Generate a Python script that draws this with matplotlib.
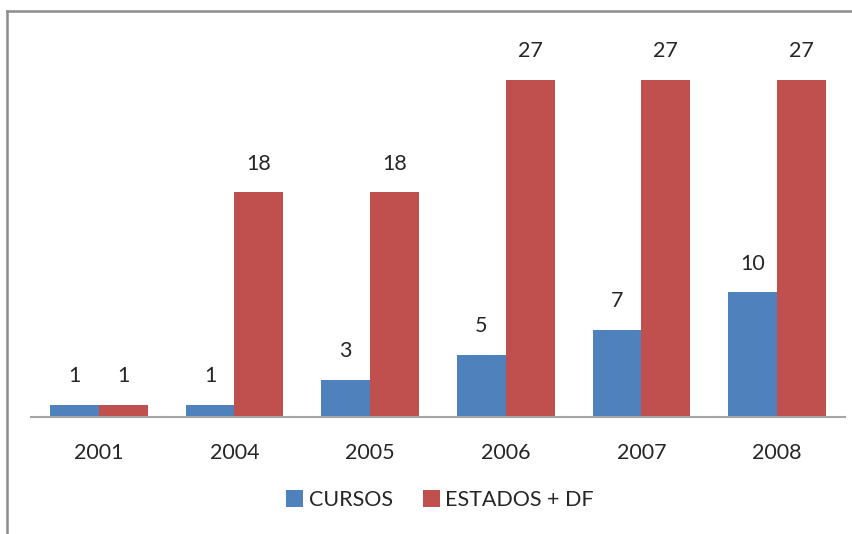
import matplotlib
matplotlib.use("Agg")
import matplotlib.pyplot as plt
import numpy as np
from matplotlib.lines import Line2D
from matplotlib.patches import Patch

years = ["2001", "2004", "2005", "2006", "2007", "2008"]
cursos = [1, 1, 3, 5, 7, 10]
estados = [1, 18, 18, 27, 27, 27]
series_names = ["CURSOS", "ESTADOS + DF"]
colors = ["#4F81BD", "#C0504D"]

plt.rcParams['font.family'] = ['Lato', 'DejaVu Sans']

W, H = 853, 534
fig = plt.figure(figsize=(W / 100, H / 100), dpi=100)

# outer frame (top and left lines)
fig.add_artist(Line2D([7 / W, 7 / W], [0, 1 - 11 / H], color="#8c8c8c", lw=1.8, transform=fig.transFigure))
fig.add_artist(Line2D([7 / W, 1], [1 - 11 / H, 1 - 11 / H], color="#8c8c8c", lw=1.8, transform=fig.transFigure))

ax_left, ax_right = 31, 845
ax_bottom, ax_top = 417, 42
ax = fig.add_axes([ax_left / W, 1 - ax_bottom / H, (ax_right - ax_left) / W, (ax_bottom - ax_top) / H])

x = np.arange(len(years))
bw = 0.36
b1 = ax.bar(x - bw / 2, cursos, width=bw, color=colors[0], label=series_names[0])
b2 = ax.bar(x + bw / 2, estados, width=bw, color=colors[1], label=series_names[1])

FS = 15.5
for bars, vals in ((b1, cursos), (b2, estados)):
    for rect, v in zip(bars, vals):
        ax.annotate(str(v), (rect.get_x() + rect.get_width() / 2, rect.get_height()),
                    xytext=(0, 20.5), textcoords="offset points", ha="center", va="center",
                    fontsize=FS, color="#262626")

ax.set_xlim(-0.5, len(years) - 0.5)
ax.set_ylim(0, 30)
ax.set_xticks(x)
ax.set_xticklabels(years, fontsize=FS, color="#262626")
ax.tick_params(axis="x", length=0, pad=19)
ax.set_yticks([])
for s in ("top", "left", "right"):
    ax.spines[s].set_visible(False)
ax.spines["bottom"].set_color("#a6a6a6")
ax.spines["bottom"].set_linewidth(1.5)

handles = [Patch(facecolor=colors[0]), Patch(facecolor=colors[1])]
fig.legend(handles, series_names, loc="center", bbox_to_anchor=(440 / W, 1 - 500 / H),
           ncol=2, frameon=False, fontsize=FS, handlelength=0.8, handleheight=0.8,
           handletextpad=0.25, columnspacing=1.4, labelcolor="#262626")

fig.savefig("out.png", dpi=100)
